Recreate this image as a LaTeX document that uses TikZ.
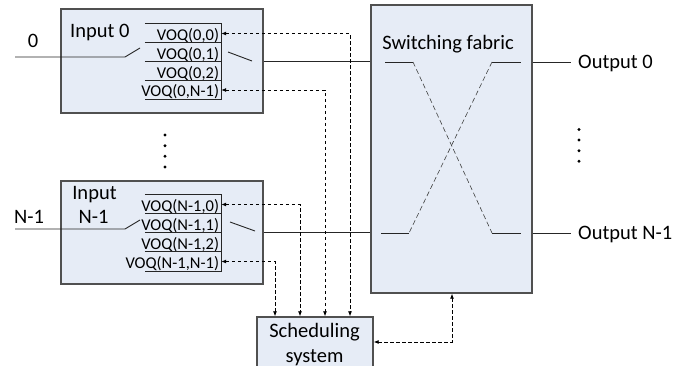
\documentclass[tikz,border=0pt]{standalone}
\usepackage{fontspec}
\setmainfont{Carlito}
\usetikzlibrary{arrows.meta,calc}
\definecolor{boxfill}{RGB}{230,236,246}
\definecolor{boxline}{RGB}{80,80,80}
\tikzset{
  blk/.style={draw=boxline, line width=1.4pt, fill=boxfill, inner sep=0pt},
  row/.style={inner sep=0pt, minimum width=76pt, minimum height=19pt},
  voqtxt/.style={font=\fontsize{16.5}{18}\selectfont, inner sep=0pt, anchor=base east},
  lbl/.style={font=\fontsize{20.5}{23}\selectfont, inner sep=0pt},
  wire/.style={line width=0.9pt, draw=black!85},
  stack/.style={line width=0.9pt, draw=black!85},
  dasharrow/.style={line width=0.8pt, dashed, dash pattern=on 3.5pt off 2.5pt, {Latex[length=5pt,width=4pt]}-{Latex[length=5pt,width=4pt]}},
  xdash/.style={line width=0.6pt, draw=black!75, dash pattern=on 5pt off 3pt},
  dotc/.style={circle, fill=black, inner sep=0pt, minimum size=3.2pt},
}
\begin{document}
\begin{tikzpicture}[x=1pt,y=-1pt]
\useasboundingbox (0,0) rectangle (692,366);
\clip (0,0) rectangle (692,366);

% boxes
\node[blk, minimum width=202pt, minimum height=104pt] (in0) at (162,61) {};
\node[blk, minimum width=202pt, minimum height=103pt] (inN) at (162,232.5) {};
\node[blk, minimum width=161pt, minimum height=288pt] (fab) at (451.5,149) {};
\node[blk, minimum width=116pt, minimum height=70pt] (sch) at (315,352) {};

% box texts
\node[lbl, anchor=base west] (tin0) at (70,37.5) {Input 0};
\node[lbl, anchor=base] (tinNa) at (94.5,199) {Input};
\node[lbl, anchor=base] (tinNb) at (93.5,223) {N-1};
\node[lbl, anchor=base] (tfab) at (448,50) {Switching fabric};
\node[lbl, anchor=base] (tscha) at (314.5,337) {Scheduling};
\node[lbl, anchor=base] (tschb) at (314.5,362) {system};

% VOQ rows input 0
\node[row] (r00) at (183,33.5) {};
\node[row] (r01) at (183,52.5) {};
\node[row] (r02) at (183,71.5) {};
\node[row] (r03) at (183,90) {};
\node[voqtxt] (t00) at ($(r00.south east)+(-2,-3)$) {VOQ(0,0)};
\node[voqtxt] (t01) at ($(r01.south east)+(-2,-3)$) {VOQ(0,1)};
\node[voqtxt] (t02) at ($(r02.south east)+(-2,-3)$) {VOQ(0,2)};
\node[voqtxt] (t03) at ($(r03.south east)+(-2,-3)$) {VOQ(0,N-1)};
\draw[stack] (r00.north west) -- (r00.north east) -- (r03.south east) -- (r03.south west);
\draw[stack] (r01.north west) -- (r01.north east);
\draw[stack] (r02.north west) -- (r02.north east);
\draw[stack] (r03.north west) -- (r03.north east);

% VOQ rows input N-1
\node[row] (rN0) at (183,204.5) {};
\node[row] (rN1) at (183,223.5) {};
\node[row] (rN2) at (183,242.5) {};
\node[row] (rN3) at (183,261.5) {};
\node[voqtxt] (tN0) at ($(rN0.south east)+(-2,-3)$) {VOQ(N-1,0)};
\node[voqtxt] (tN1) at ($(rN1.south east)+(-2,-3)$) {VOQ(N-1,1)};
\node[voqtxt] (tN2) at ($(rN2.south east)+(-2,-3)$) {VOQ(N-1,2)};
\node[voqtxt] (tN3) at ($(rN3.south east)+(-2,-3)$) {VOQ(N-1,N-1)};
\draw[stack] (rN0.north west) -- (rN0.north east) -- (rN3.south east) -- (rN3.south west);
\draw[stack] (rN1.north west) -- (rN1.north east);
\draw[stack] (rN2.north west) -- (rN2.north east);
\draw[stack] (rN3.north west) -- (rN3.north east);

% input lines
\coordinate (a0) at (15,57);
\coordinate (aN) at (15,229);
\node[lbl, anchor=base] (l0) at (33,48) {0};
\node[lbl, anchor=base] (lN) at (29,223) {N-1};
\draw[wire] (a0) -- (125,57) -- (140,48);
\draw[wire] (aN) -- (125,229) -- (140,220);

% output switches
\draw[wire] (228,52) -- (252,61);
\draw[wire] (230,222) -- (255,231);

% lines to fabric
\coordinate (y0) at (0,61.5);
\coordinate (yN) at (0,232);
\draw[wire] (in0.east |- y0) -- (fab.west |- y0);
\draw[wire] (inN.east |- yN) -- (fab.west |- yN);

% fabric internals
\draw[wire] (385,62) -- (413,62);
\draw[xdash] (413,62) -- (492,233);
\draw[wire] (492,233) -- (521,233);
\draw[wire] (492,62) -- (521,62);
\draw[xdash] (492,62) -- (409,233);
\draw[wire] (381,233) -- (409,233);

% outputs
\node[lbl, anchor=base west] (o0) at (578,68.5) {Output 0};
\node[lbl, anchor=base west] (oN) at (578,239) {Output N-1};
\coordinate (e0) at (571,62);
\coordinate (eN) at (571,233);
\draw[wire] (fab.east |- e0) -- (e0);
\draw[wire] (fab.east |- eN) -- (eN);

% dots
\foreach \yy [count=\i] in {135,145.7,156.3,167} \node[dotc] (da\i) at (165,\yy) {};
\foreach \yy [count=\i] in {129.5,140,150.7,161.3} \node[dotc] (db\i) at (579,\yy) {};

% dashed control arrows
\coordinate (k1) at (350,0);
\coordinate (k2) at (325,0);
\coordinate (k3) at (300,0);
\coordinate (k4) at (275,0);
\draw[dasharrow] (r00.east) -| (k1 |- sch.north);
\draw[dasharrow] (r03.east) -| (k2 |- sch.north);
\draw[dasharrow] (rN0.east) -| (k3 |- sch.north);
\draw[dasharrow] (rN3.east) -| (k4 |- sch.north);
\coordinate (k5) at (452,342);
\draw[dasharrow] (sch.east |- k5) -| (k5 |- fab.south);
\end{tikzpicture}
\end{document}
